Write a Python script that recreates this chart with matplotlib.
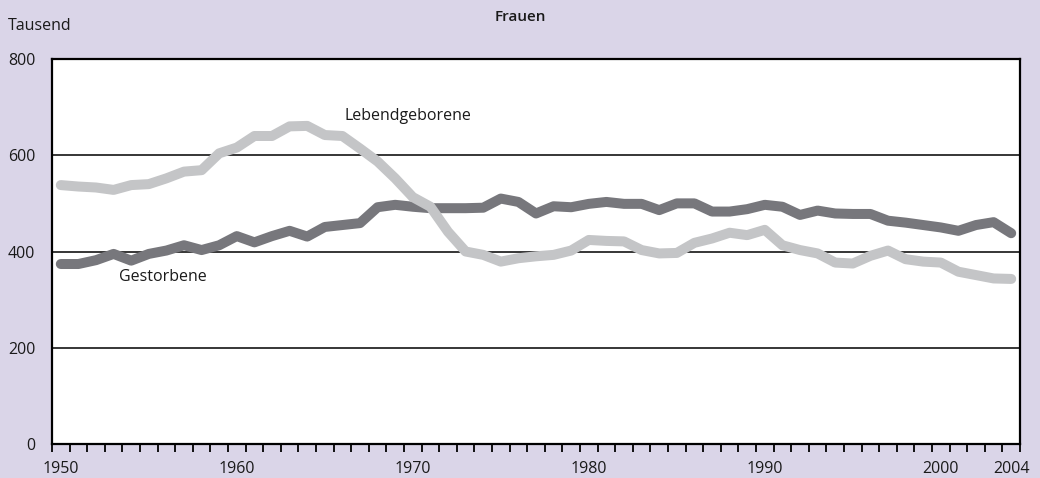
import matplotlib
matplotlib.use("Agg")
import matplotlib.pyplot as plt
import numpy as np

years = list(range(1950, 2005))
lebendgeborene = [538, 535, 533, 528, 538, 540, 552, 566, 569, 604,
                  616, 640, 640, 660, 661, 642, 640, 614, 587, 552,
                  513, 493, 441, 400, 393, 379, 386, 390, 393, 402,
                  424, 422, 421, 403, 396, 397, 418, 427, 439, 434,
                  445, 413, 403, 396, 377, 375, 391, 402, 384, 379,
                  377, 358, 351, 344, 343]
gestorbene = [374, 374, 382, 395, 381, 395, 402, 413, 403, 413,
              432, 419, 432, 443, 431, 451, 455, 459, 492, 497,
              493, 490, 490, 490, 491, 510, 503, 479, 494, 492,
              499, 503, 499, 499, 486, 500, 500, 483, 483, 488,
              497, 493, 476, 485, 479, 478, 478, 464, 460, 455,
              450, 443, 455, 461, 438]
xlabels = [1950, 1960, 1970, 1980, 1990, 2000, 2004]
yticks = [0, 200, 400, 600, 800]

bg = "#dad5e8"
plt.rcParams['font.family'] = ['Open Sans', 'DejaVu Sans']

fig = plt.figure(figsize=(10.4, 4.78), dpi=100, facecolor=bg)
ax = fig.add_axes([52/1040, 1 - 444/478, 968/1040, 385/478])
ax.set_facecolor("white")

ax.plot(years, gestorbene, color="#77777c", lw=7.2, solid_capstyle="round",
        solid_joinstyle="round", zorder=3)
ax.plot(years, lebendgeborene, color="#c4c5c7", lw=7.2, solid_capstyle="round",
        solid_joinstyle="round", zorder=4)

ax.set_xlim(1949.5, 2004.5)
ax.set_ylim(0, 800)

ax.set_xticks(xlabels)
ax.set_xticklabels([str(v) for v in xlabels])
ax.set_xticks(np.arange(1949.5, 2005.0, 1.0), minor=True)
ax.tick_params(axis="x", which="major", length=0, pad=12, labelsize=11.5, colors="#1a1a1a")
ax.tick_params(axis="x", which="minor", length=6, width=1.3, direction="out", color="black")

ax.set_yticks(yticks)
ax.tick_params(axis="y", which="major", length=0, pad=12, labelsize=11.5, colors="#1a1a1a")

for v in [200, 400, 600]:
    ax.axhline(v, color="black", lw=1.1, zorder=2)

for s in ax.spines.values():
    s.set_linewidth(1.6)
    s.set_color("black")

ax.text(1966.1, 682, "Lebendgeborene", fontsize=11.5, color="#1a1a1a",
        ha="left", va="center", zorder=5)
ax.text(1953.3, 346, "Gestorbene", fontsize=11.5, color="#1a1a1a",
        ha="left", va="center", zorder=5)

fig.text(8/1040, 1 - 26/478, "Tausend", fontsize=11.5, color="#1a1a1a",
         ha="left", va="center")
fig.text(520/1040, 1 - 17/478, "Frauen", fontsize=11, fontweight="semibold",
         color="#1a1a1a", ha="center", va="center")

fig.savefig("out.png", dpi=100, facecolor=bg)
